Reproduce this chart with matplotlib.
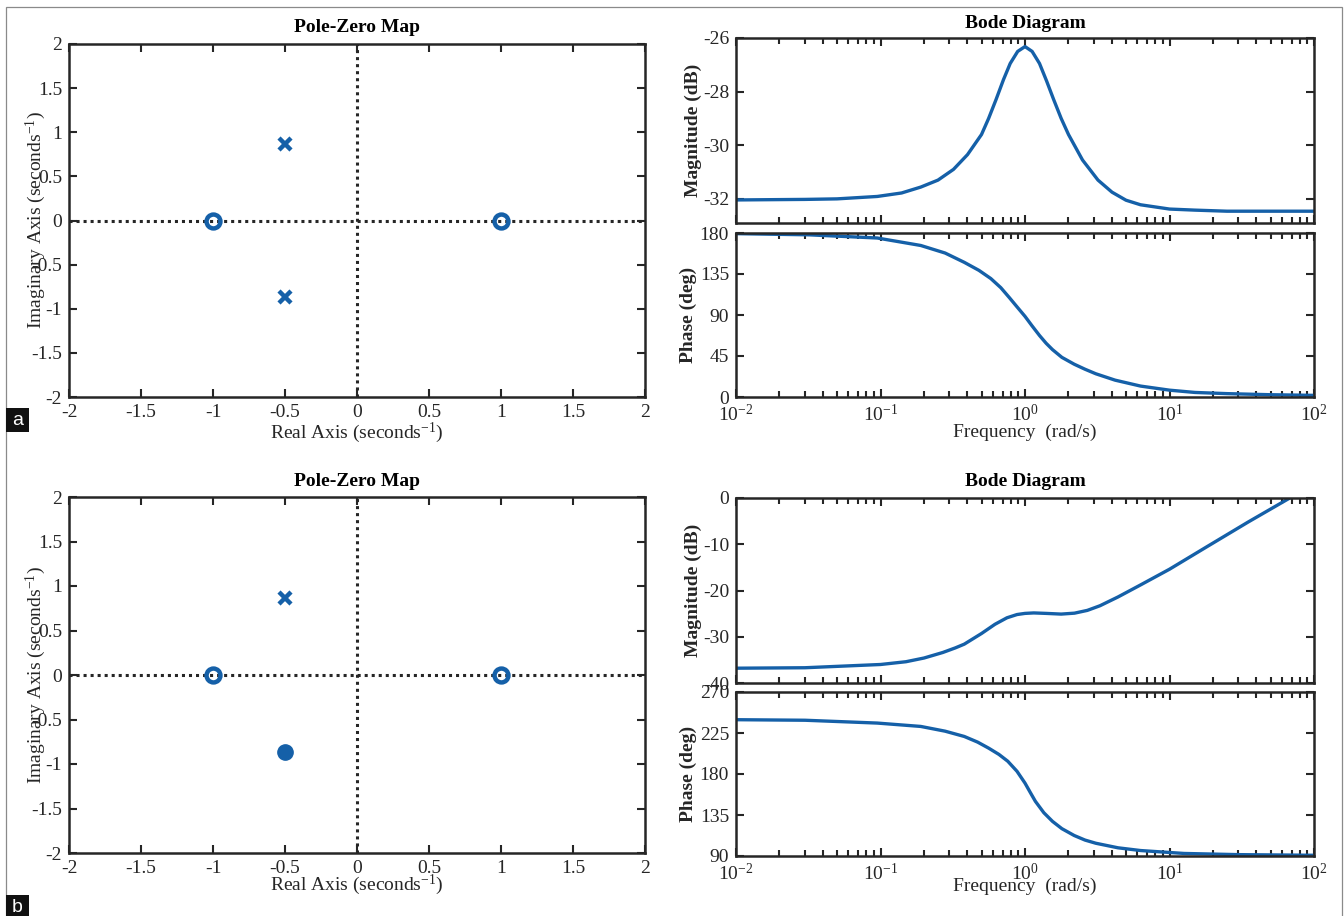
import numpy as np
import matplotlib
matplotlib.use("Agg")
import matplotlib.pyplot as plt
from matplotlib.patches import Rectangle
from matplotlib.ticker import NullFormatter

plt.rcParams['font.family'] = ['Liberation Serif', 'DejaVu Serif']
plt.rcParams['mathtext.fontset'] = 'custom'
plt.rcParams['mathtext.rm'] = 'Liberation Serif'
plt.rcParams['mathtext.it'] = 'Liberation Serif:italic'
plt.rcParams['mathtext.bf'] = 'Liberation Serif:bold'

# ---------------- pole-zero maps ----------------
pz_ticks = [-2, -1.5, -1, -0.5, 0, 0.5, 1, 1.5, 2]
pz_ticklabels = ['-2', '-1.5', '-1', '-0.5', '0', '0.5', '1', '1.5', '2']

a_zeros_re = [-1.0, 1.0]
a_zeros_im = [0.0, 0.0]
a_poles_re = [-0.5, -0.5]
a_poles_im = [0.866, -0.866]

b_zeros_re = [-1.0, 1.0]
b_zeros_im = [0.0, 0.0]
b_poles_re = [-0.5]
b_poles_im = [0.866]
b_dot_re = [-0.5]
b_dot_im = [-0.866]

# ---------------- bode diagrams ----------------
freq_ticks = [1e-2, 1e-1, 1e0, 1e1, 1e2]
freq_ticklabels = ['$10^{-2}$', '$10^{-1}$', '$10^{0}$', '$10^{1}$', '$10^{2}$']

a_mag_w = [0.01, 0.03, 0.05, 0.095, 0.14, 0.19, 0.25, 0.32, 0.4, 0.5, 0.56, 0.63, 0.71,
           0.79, 0.89, 1.0, 1.12, 1.26, 1.41, 1.58, 1.78, 2.0, 2.5, 3.2, 4.0, 5.0, 6.3,
           10, 15, 25, 40, 100]
a_mag_db = [-32.04, -32.02, -32.0, -31.91, -31.78, -31.56, -31.3, -30.9, -30.35, -29.6,
            -29.0, -28.3, -27.55, -26.95, -26.5, -26.32, -26.5, -26.95, -27.6, -28.3,
            -29.0, -29.6, -30.55, -31.3, -31.75, -32.05, -32.22, -32.38, -32.42, -32.46,
            -32.46, -32.46]
a_ph_w = [0.01, 0.032, 0.095, 0.19, 0.28, 0.38, 0.48, 0.58, 0.68, 0.78, 0.88, 1.0, 1.12,
          1.26, 1.4, 1.55, 1.8, 2.19, 2.6, 3.09, 4.2, 6.3, 10, 15, 25, 50, 100]
a_ph_deg = [179.3, 178.0, 174.5, 166.3, 158.0, 147.8, 139.0, 130.0, 120.0, 109.0, 99.0,
            88.5, 78.0, 67.5, 59.0, 52.0, 43.5, 36.0, 30.5, 25.5, 18.5, 12.0, 7.5, 5.0,
            3.7, 2.5, 1.8]

b_mag_w = [0.01, 0.03, 0.1, 0.15, 0.2, 0.27, 0.33, 0.38, 0.5, 0.62, 0.75, 0.88, 1.0,
           1.15, 1.4, 1.78, 2.2, 2.7, 3.3, 4.4, 6.3, 10, 18, 35, 68, 100]
b_mag_db = [-36.8, -36.7, -36.0, -35.4, -34.6, -33.4, -32.4, -31.6, -29.3, -27.3, -25.9,
            -25.2, -24.95, -24.85, -24.95, -25.1, -24.9, -24.3, -23.3, -21.4, -18.8, -15.4,
            -10.6, -5.2, 0.0, 3.3]
b_ph_w = [0.01, 0.03, 0.095, 0.19, 0.28, 0.38, 0.47, 0.56, 0.66, 0.76, 0.88, 1.0, 1.09,
          1.18, 1.35, 1.55, 1.8, 2.19, 2.6, 3.09, 4.4, 6.3, 12.6, 30, 100]
b_ph_deg = [239.6, 239.0, 235.9, 232.2, 227.0, 221.2, 215.0, 208.4, 201.5, 194.0, 183.0,
            170.0, 159.5, 150.0, 137.5, 128.0, 120.0, 112.5, 107.5, 104.0, 99.0, 96.0,
            92.8, 91.5, 90.8]

W, H = 1344, 916
fig = plt.figure(figsize=(W / 100, H / 100), dpi=100)

BLUE = '#1560a8'
INK = '#262626'
FS = 14


def box(x0, y0, x1, y1):
    # pixel box, top-left origin -> figure fraction rect
    return [x0 / W, 1 - y1 / H, (x1 - x0) / W, (y1 - y0) / H]


def style(ax):
    for s in ax.spines.values():
        s.set_linewidth(1.8)
        s.set_color(INK)
    ax.tick_params(which='both', direction='in', top=True, right=True,
                   colors=INK, labelsize=FS, width=1.5)
    ax.tick_params(which='major', length=6, pad=5)
    ax.tick_params(which='minor', length=4)


def pzmap(px, zre, zim, pre, pim, dre=None, dim=None, title_y=0, xlab_y=0):
    x0, y0, x1, y1 = px
    ax = fig.add_axes(box(*px))
    style(ax)
    ax.axhline(0, color=INK, ls=(0, (1, 1.3)), lw=2.2, zorder=1)
    ax.axvline(0, color=INK, ls=(0, (1, 1.3)), lw=2.2, zorder=1)
    ax.plot(zre, zim, 'o', ms=10, mfc='none', mec=BLUE, mew=3.2, zorder=3)
    ax.plot(pre, pim, 'x', ms=8, mec=BLUE, mew=3.2, zorder=3)
    if dre is not None:
        ax.plot(dre, dim, 'o', ms=11, color=BLUE, zorder=3)
    ax.set_xlim(-2, 2)
    ax.set_ylim(-2, 2)
    ax.set_xticks(pz_ticks)
    ax.set_xticklabels(pz_ticklabels)
    ax.set_yticks(pz_ticks)
    ax.set_yticklabels(pz_ticklabels)
    h = y1 - y0
    w = x1 - x0
    ax.text(0.5, 1 + (y0 - title_y) / h, 'Pole-Zero Map', transform=ax.transAxes,
            ha='center', va='center', fontsize=FS, fontweight='bold', color='black')
    ax.set_xlabel('Real Axis (seconds$^{-1}$)', fontsize=FS, color=INK)
    ax.xaxis.set_label_coords(0.5, -(xlab_y - y1) / h)
    ax.xaxis.label.set_va('center')
    ax.set_ylabel('Imaginary Axis (seconds$^{-1}$)', fontsize=FS, color=INK)
    ax.yaxis.set_label_coords(-(x0 - 36) / w, 0.5)
    ax.yaxis.label.set_va('center')
    return ax


def bode(mag_px, ph_px, mw, mdb, pw, pdeg, mlim, mticks, plim, pticks,
         title_y=0, xlab_y=0):
    axm = fig.add_axes(box(*mag_px))
    axp = fig.add_axes(box(*ph_px))
    for ax in (axm, axp):
        style(ax)
        ax.set_xscale('log')
        ax.set_xlim(1e-2, 1e2)
        ax.set_xticks(freq_ticks)
        ax.xaxis.set_minor_formatter(NullFormatter())
    axm.plot(mw, mdb, color=BLUE, lw=2.4, solid_joinstyle='round')
    axp.plot(pw, pdeg, color=BLUE, lw=2.4, solid_joinstyle='round')
    axm.set_ylim(*mlim)
    axm.set_yticks(mticks)
    axm.set_yticklabels([str(t) for t in mticks])
    axp.set_ylim(*plim)
    axp.set_yticks(pticks)
    axp.set_yticklabels([str(t) for t in pticks])
    axm.tick_params(labelbottom=False)
    axp.set_xticklabels(freq_ticklabels)

    mx0, my0, mx1, my1 = mag_px
    px0, py0, px1, py1 = ph_px
    mh, w, ph = my1 - my0, mx1 - mx0, py1 - py0
    axm.text(0.5, 1 + (my0 - title_y) / mh, 'Bode Diagram', transform=axm.transAxes,
             ha='center', va='center', fontsize=FS, fontweight='bold', color='black')
    axm.set_ylabel('Magnitude (dB)', fontsize=FS, fontweight='bold', color=INK)
    axm.yaxis.set_label_coords(-(mx0 - 693) / w, 0.5)
    axm.yaxis.label.set_va('center')
    axp.set_ylabel('Phase (deg)', fontsize=FS, fontweight='bold', color=INK)
    axp.yaxis.set_label_coords(-(px0 - 688) / w, 0.5)
    axp.yaxis.label.set_va('center')
    axp.set_xlabel('Frequency  (rad/s)', fontsize=FS, color=INK)
    axp.xaxis.set_label_coords(0.5, -(xlab_y - py1) / ph)
    axp.xaxis.label.set_va('center')


# row a
pzmap((69, 44, 645, 397), a_zeros_re, a_zeros_im, a_poles_re, a_poles_im,
      title_y=27, xlab_y=433)
bode((736, 38, 1314, 223), (736, 233, 1314, 397), a_mag_w, a_mag_db, a_ph_w, a_ph_deg,
     (-32.9, -26), [-32, -30, -28, -26], (0, 180), [0, 45, 90, 135, 180],
     title_y=23, xlab_y=432)

# row b
pzmap((69, 497, 645, 853), b_zeros_re, b_zeros_im, b_poles_re, b_poles_im,
      b_dot_re, b_dot_im, title_y=482, xlab_y=885)
bode((736, 498, 1314, 683), (736, 692, 1314, 856), b_mag_w, b_mag_db, b_ph_w, b_ph_deg,
     (-40, 0), [-40, -30, -20, -10, 0], (90, 270), [90, 135, 180, 225, 270],
     title_y=482, xlab_y=886)

# outer frame and panel letters
fig.add_artist(Rectangle((6 / W, -0.05), (1342 - 6) / W, 0.05 + 1 - 7 / H,
                         transform=fig.transFigure, fill=False, ec='#8a8a8a', lw=0.9))
for letter, ytop, ybot in (('a', 408, 432), ('b', 895, 925)):
    fig.add_artist(Rectangle((6 / W, 1 - ybot / H), 23 / W, (ybot - ytop) / H,
                             transform=fig.transFigure, fc='#111111', ec='none'))
    fig.text(17.5 / W, 1 - (ytop + 12) / H, letter, color='white', fontsize=14,
             family=['Liberation Sans', 'DejaVu Sans'], ha='center', va='center')

fig.savefig('out.png', dpi=100)
